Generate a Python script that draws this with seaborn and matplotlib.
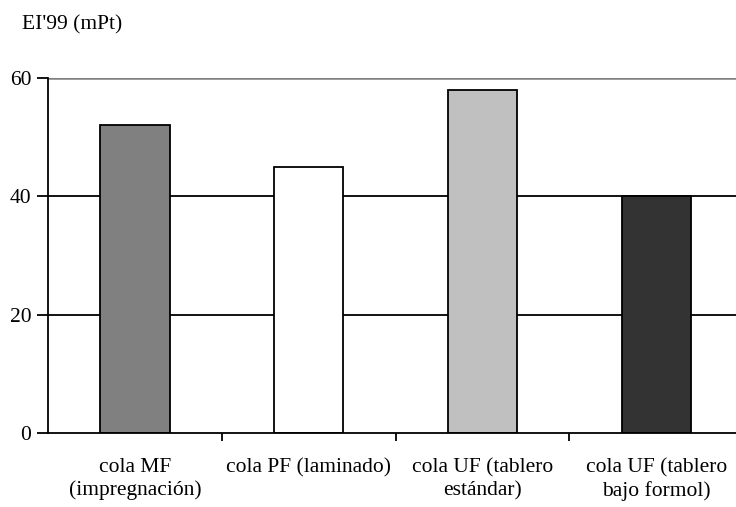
import matplotlib
matplotlib.use("Agg")
import matplotlib.pyplot as plt
import seaborn as sns
import pandas as pd

categories = ["cola MF\n(impregnación)", "cola PF (laminado)", "cola UF (tablero\nestándar)", "cola UF (tablero\nbajo formol)"]
values = [52, 45, 58, 40]
colors = ["#808080", "#ffffff", "#c0c0c0", "#333333"]
yticks = [0, 20, 40, 60]

sns.set_style("white")
plt.rcParams["font.family"] = ["Liberation Serif", "DejaVu Serif"]
plt.rcParams["font.size"] = 15
plt.rcParams["text.color"] = "black"

df = pd.DataFrame({"cat": categories, "val": values})

fig = plt.figure(figsize=(7.36, 5.07), dpi=100)
ax = fig.add_axes([48/736, 1-433/507, 688/736, 355/507])

for y in yticks[1:3]:
    ax.axhline(y, color="black", lw=1.3, zorder=0)
ax.axhline(60, color="#808080", lw=1.8, zorder=0)

sns.barplot(data=df, x="cat", y="val", hue="cat", palette=colors, legend=False,
            width=0.40, edgecolor="black", linewidth=1.3, ax=ax, zorder=2)

ax.set_yticks(yticks)
ax.set_xticks(range(len(categories)))
ax.set_xticklabels(categories, linespacing=1.25)
ax.set_xticks([0.5, 1.5, 2.5], minor=True)
ax.set_ylim(0, 60)
ax.set_xlim(-0.5, -0.5 + 688/173.8)
ax.tick_params(axis="x", which="major", bottom=True, length=0, pad=18)
ax.tick_params(axis="x", which="minor", bottom=True, length=6, width=1.3, color="black", direction="out")
ax.tick_params(axis="y", left=True, length=8, width=1.3, color="black", direction="out", pad=4)
ax.tick_params(axis="both", labelsize=15.5, labelcolor="black")
ax.set_xlabel("")
ax.set_ylabel("")
for s in ["top", "right"]:
    ax.spines[s].set_visible(False)
for s in ["left", "bottom"]:
    ax.spines[s].set_color("black")
    ax.spines[s].set_linewidth(1.3)
ax.spines["bottom"].set_zorder(3)

fig.text(22/736, 1-25/507, "EI'99 (mPt)", fontsize=15.5, color="black", va="center", ha="left")

fig.savefig("out.png", dpi=100)
